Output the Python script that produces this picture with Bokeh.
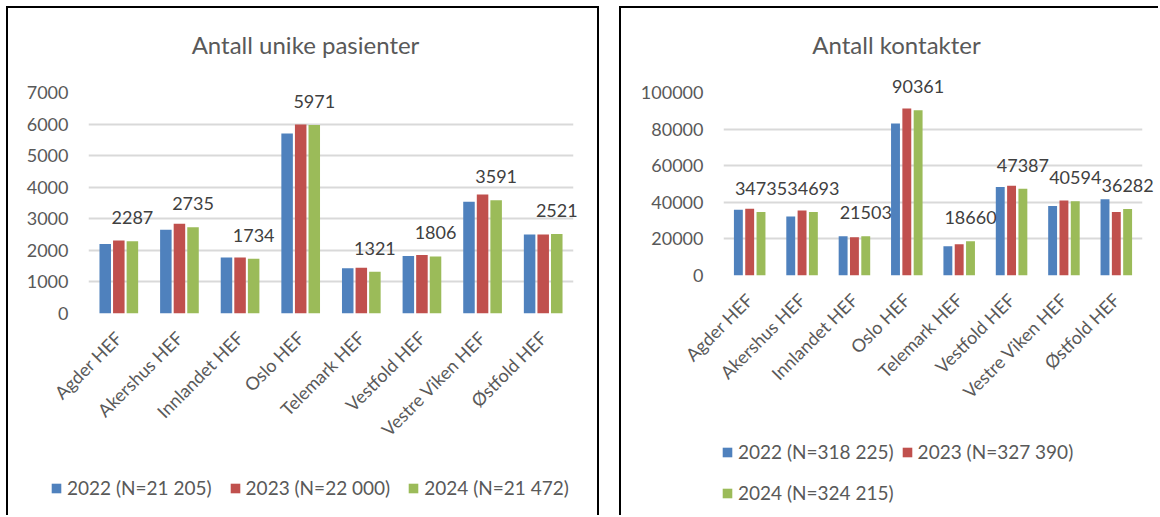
import math
from bokeh.plotting import figure
from bokeh.models import (FactorRange, Range1d, FixedTicker, ColumnDataSource,
                          LabelSet, Label, Legend, LegendItem, BasicTickFormatter)
from bokeh.core.properties import value
from bokeh.transform import dodge
from bokeh.embed import file_html
from bokeh.resources import INLINE

categories = ["Agder HEF", "Akershus HEF", "Innlandet HEF", "Oslo HEF",
              "Telemark HEF", "Vestfold HEF", "Vestre Viken HEF", "Østfold HEF"]

# Antall unike pasienter
pas_2022 = [2200, 2650, 1770, 5700, 1430, 1820, 3540, 2500]
pas_2023 = [2310, 2840, 1770, 5990, 1450, 1850, 3770, 2500]
pas_2024 = [2287, 2735, 1734, 5971, 1321, 1806, 3591, 2521]
pas_series = ["2022 (N=21 205)", "2023 (N=22 000)", "2024 (N=21 472)"]
pas_ticks = [0, 1000, 2000, 3000, 4000, 5000, 6000, 7000]

# Antall kontakter
kon_2022 = [35960, 32290, 21500, 83030, 16040, 48330, 37930, 41600]
kon_2023 = [36500, 35580, 20960, 91240, 17130, 49100, 41050, 34650]
kon_2024 = [34735, 34693, 21503, 90361, 18660, 47387, 40594, 36282]
kon_series = ["2022 (N=318 225)", "2023 (N=327 390)", "2024 (N=324 215)"]
kon_ticks = [0, 20000, 40000, 60000, 80000, 100000]

COLORS = ["#4F81BD", "#C0504D", "#9BBB59"]
TXT = "#595959"
FONT = "Lato"


def abs_style(left, top, extra=None):
    s = {"position": "absolute", "left": f"{left}px", "top": f"{top}px"}
    if extra:
        s.update(extra)
    return s


def make_chart(v22, v23, v24, ticks, width, height, mleft, mright, mtop, mbottom,
               bar_w, bar_step, styles):
    src = ColumnDataSource(dict(cat=categories, v22=v22, v23=v23, v24=v24))
    p = figure(x_range=FactorRange(factors=categories),
               y_range=Range1d(ticks[0], ticks[-1]),
               width=width, height=height, output_backend="svg",
               toolbar_location=None,
               min_border_left=mleft, min_border_right=mright,
               min_border_top=mtop, min_border_bottom=mbottom,
               styles=styles)
    p.outline_line_color = None
    p.background_fill_color = "white"
    p.border_fill_color = "white"

    for i, col in enumerate(["v22", "v23", "v24"]):
        p.vbar(x=dodge("cat", (i - 1) * bar_step, range=p.x_range), top=col,
               width=bar_w, source=src, fill_color=COLORS[i], line_color=None)

    p.xgrid.grid_line_color = None
    p.ygrid.grid_line_color = "#D9D9D9"
    p.ygrid.grid_line_width = 2

    p.yaxis.ticker = FixedTicker(ticks=ticks)
    p.yaxis.formatter = BasicTickFormatter(use_scientific=False)
    for ax in (p.xaxis, p.yaxis):
        ax.axis_line_color = None
        ax.major_tick_line_color = None
        ax.major_tick_out = 0
        ax.major_tick_in = 0
        ax.minor_tick_line_color = None
        ax.major_label_text_font = FONT
        ax.major_label_text_font_size = "18px"
        ax.major_label_text_color = TXT
    p.yaxis.major_label_standoff = 20
    p.xaxis.major_label_standoff = 21
    p.xaxis.major_label_orientation = math.pi / 4
    return p


def make_value_layer(v24, ticks, frame_left, frame_top, frame_w, frame_h, ext_x, ext_top,
                     bar_step):
    """Transparent layer whose scales continue the chart's scales a little past its
    plot area, so that the value labels above the bars are not cut off."""
    band = frame_w / len(categories)
    w = frame_w + 2 * ext_x
    h = frame_h + ext_top
    o = figure(width=w, height=h, output_backend="svg", toolbar_location=None,
               x_range=FactorRange(factors=categories, range_padding=ext_x / band,
                                   range_padding_units="absolute"),
               y_range=Range1d(ticks[0], ticks[-1] * h / frame_h),
               x_axis_type=None, y_axis_type=None,
               min_border=0, min_border_left=0, min_border_right=0,
               min_border_top=0, min_border_bottom=0,
               styles=abs_style(frame_left - ext_x, frame_top - ext_top))
    o.outline_line_color = None
    o.background_fill_alpha = 0
    o.border_fill_alpha = 0
    o.grid.visible = False
    src = ColumnDataSource(dict(cat=categories, v24=v24, lbl=[str(v) for v in v24]))
    o.add_layout(LabelSet(x=dodge("cat", bar_step, range=o.x_range), y="v24", text="lbl",
                          source=src, text_align="center", text_baseline="alphabetic",
                          y_offset=17, text_font=value(FONT), text_font_size="18px",
                          text_color="#404040"))
    return o


def make_overlay(title, names, width, height, left, top, title_xy, legend_rows,
                 standoff):
    """Transparent layer on top of a chart that carries its title and legend."""
    o = figure(width=width, height=height, output_backend="svg", toolbar_location=None,
               x_range=Range1d(0, width), y_range=Range1d(height, 0),
               x_axis_type=None, y_axis_type=None,
               min_border=0, min_border_left=0, min_border_right=0,
               min_border_top=0, min_border_bottom=0,
               styles=abs_style(left, top))
    o.outline_line_color = None
    o.background_fill_alpha = 0
    o.border_fill_alpha = 0
    o.grid.visible = False

    o.add_layout(Label(x=title_xy[0], y=title_xy[1], text=title, text_font=FONT,
                       text_font_size="24px", text_color=TXT, text_align="center",
                       text_baseline="alphabetic"))

    # legend swatches: zero-height bars, only their colours are used by the legend
    swatch = ColumnDataSource(dict(x=[0], top=[0]))
    rs = [o.vbar(x="x", top="top", bottom=0, width=0, source=swatch, fill_color=c,
                 line_color=None) for c in COLORS]
    for (idxs, loc, spacing) in legend_rows:
        items = [LegendItem(label=names[i], renderers=[rs[i]]) for i in idxs]
        lg = Legend(items=items, location=loc, orientation="horizontal",
                    border_line_color=None, background_fill_alpha=0,
                    padding=4, spacing=spacing, glyph_width=12, glyph_height=12,
                    label_height=22, label_standoff=standoff, label_text_font=FONT,
                    label_text_font_size="19px", label_text_color=TXT, margin=0)
        o.add_layout(lg)
    return o


# left panel: canvas at page (8, 8), plot area x 88..573, y 92..313
p1 = make_chart(pas_2022, pas_2023, pas_2024, pas_ticks, width=593, height=509,
                mleft=80, mright=28, mtop=84, mbottom=204, bar_w=0.19, bar_step=0.224,
                styles=abs_style(6, 6, {"border-top": "2px solid black",
                                        "border-left": "2px solid black",
                                        "border-right": "2px solid black"}))
v1 = make_value_layer(pas_2024, pas_ticks, 88, 92, 485, 221, 20, 40, 0.224)
o1 = make_overlay("Antall unike pasienter", pas_series, 593, 509, 8, 8, (297, 36),
                  legend_rows=[([0, 1, 2], (42, 18), 17)], standoff=5)

# right panel: canvas at page (621, 8), plot area x 723..1142, y 92..275
p2 = make_chart(kon_2022, kon_2023, kon_2024, kon_ticks, width=539, height=509,
                mleft=102, mright=18, mtop=84, mbottom=242, bar_w=0.17, bar_step=0.216,
                styles=abs_style(619, 6, {"border-top": "2px solid black",
                                          "border-left": "2px solid black"}))
v2 = make_value_layer(kon_2024, kon_ticks, 723, 92, 419, 183, 16, 40, 0.216)
o2 = make_overlay("Antall kontakter", kon_series, 539, 509, 621, 8, (275, 36),
                  legend_rows=[([0, 1], (100, 54), 7), ([2], (100, 13), 7)], standoff=5)

open("out.html", "w").write(file_html([p1, v1, o1, p2, v2, o2], INLINE))
